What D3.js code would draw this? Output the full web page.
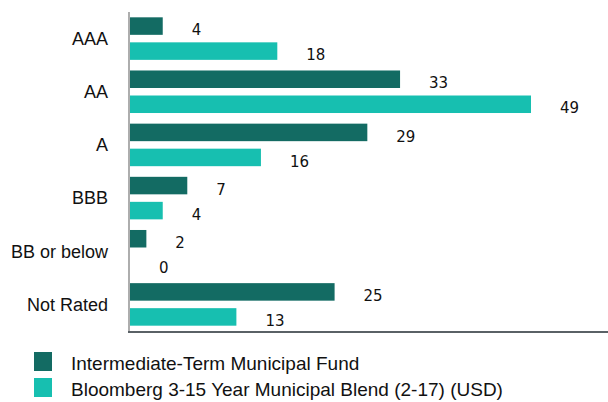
<!DOCTYPE html>
<html>
<head>
<meta charset="utf-8">
<script src="https://cdn.jsdelivr.net/npm/d3@7"></script>
<style>
  body { margin: 0; background: #fff; }
</style>
</head>
<body>
<script>
var width = 608
var height = 402

// ratings and series values (%)
var categories = ['AAA', 'AA', 'A', 'BBB', 'BB or below', 'Not Rated']
var seriesNames = ['Intermediate-Term Municipal Fund', 'Bloomberg 3-15 Year Municipal Blend (2-17) (USD)']
var fundValues = [4, 33, 29, 7, 2, 25]
var indexValues = [18, 49, 16, 4, 0, 13]
var colors = ['#136b63', '#17bfb0']

var rows = categories.map(function (c, i) {
    return { cat: c, values: [fundValues[i], indexValues[i]] }
})

var svg = d3.select('body').append('svg')
    .attr('width', width)
    .attr('height', height)

var x0 = 130
var y = d3.scaleBand().domain(categories).range([12, 331]).paddingInner(0.2).paddingOuter(0.1)
var ySub = d3.scaleBand().domain([0, 1]).range([0, y.bandwidth()]).paddingInner(0.3)
var x = d3.scaleLinear().domain([0, 49]).range([x0, 531])

var group = svg.append('g')
    .selectAll('g')
    .data(rows)
    .enter()
    .append('g')
    .attr('transform', function (d) { return 'translate(0,' + y(d.cat) + ')' })

group.selectAll('rect')
    .data(function (d) { return d.values })
    .enter()
    .append('rect')
    .attr('x', x(0))
    .attr('y', function (d, i) { return ySub(i) })
    .attr('width', function (d) { return x(d) - x(0) })
    .attr('height', ySub.bandwidth())
    .attr('fill', function (d, i) { return colors[i] })

group.selectAll('text.val')
    .data(function (d) { return d.values })
    .enter()
    .append('text')
    .attr('class', 'val')
    .attr('x', function (d) { return x(d) + 29 })
    .attr('y', function (d, i) { return ySub(i) + ySub.bandwidth() / 2 + 4 })
    .attr('dy', '0.35em')
    .attr('font-family', 'DejaVu Sans, sans-serif')
    .attr('font-size', 15)
    .attr('fill', '#111')
    .text(function (d) { return d })

// category labels
svg.append('g')
    .selectAll('text')
    .data(categories)
    .enter()
    .append('text')
    .attr('x', 108)
    .attr('y', function (d) { return y(d) + y.bandwidth() / 2 })
    .attr('dy', '0.35em')
    .attr('text-anchor', 'end')
    .attr('font-family', 'Liberation Sans, Arial, sans-serif')
    .attr('font-size', 18)
    .attr('fill', '#111')
    .text(function (d) { return d })

// axis lines
svg.append('line')
    .attr('x1', 129).attr('x2', 129)
    .attr('y1', 12).attr('y2', 332)
    .attr('stroke', '#777')
    .attr('stroke-width', 1.2)

svg.append('line')
    .attr('x1', 128).attr('x2', width)
    .attr('y1', 332).attr('y2', 332)
    .attr('stroke', '#5a6166')
    .attr('stroke-width', 2)

// legend
var legend = svg.append('g')
    .selectAll('g')
    .data(seriesNames)
    .enter()
    .append('g')
    .attr('transform', function (d, i) { return 'translate(34,' + (352 + i * 26) + ')' })

legend.append('rect')
    .attr('width', 18)
    .attr('height', 19)
    .attr('fill', function (d, i) { return colors[i] })

legend.append('text')
    .attr('x', 37)
    .attr('y', 11)
    .attr('dy', '0.35em')
    .attr('font-family', 'Liberation Sans, Arial, sans-serif')
    .attr('font-size', 19)
    .attr('fill', '#111')
    .text(function (d) { return d })
</script>
</body>
</html>
